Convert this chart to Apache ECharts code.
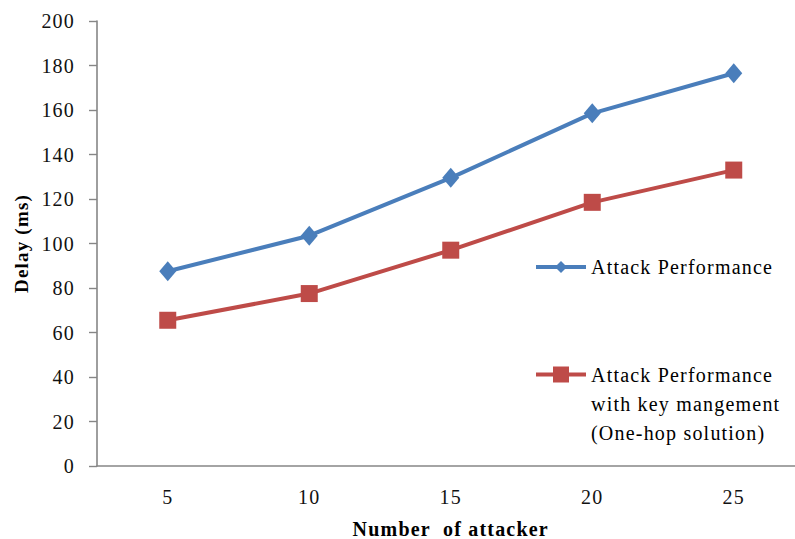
<!DOCTYPE html>
<html>
<head>
<meta charset="utf-8">
<script src="https://cdn.jsdelivr.net/npm/echarts@6/dist/echarts.min.js"></script>
<style>
  html, body { margin: 0; padding: 0; background: #fff; overflow: hidden; width: 795px; height: 539px; }
  #chart { position: absolute; left: 0; top: 0; width: 795px; height: 539px; overflow: hidden; }
  /* slightly looser glyph spacing for the serif labels */
  #chart svg text { letter-spacing: 1.2px; }
</style>
</head>
<body>
<div id="chart"></div>
<script>
// Number of attackers on the x axis
const categories = ['5', '10', '15', '20', '25'];

// Delay (ms) per scenario
const attackDelay = [87.5, 103.5, 129.5, 158.5, 176.5];
const keyMgmtDelay = [65.5, 77.5, 97, 118.5, 133];

const seriesNames = [
  'Attack Performance',
  'Attack Performance with key mangement (One-hop solution)'
];
// two empty leading lines keep the icon level with the first text line
const legendLabels = [
  'Attack Performance',
  '\n\nAttack Performance\nwith key mangement\n(One-hop solution)'
];

const yTicks = { min: 0, max: 200, interval: 20 };

const FONT = 'Liberation Serif';
const AXIS_GRAY = '#868686';
const BLUE = '#4a7ebb';
const RED = '#be4b48';

const chart = echarts.init(document.getElementById('chart'), null, { renderer: 'svg', width: 795, height: 539 });

chart.setOption({
  backgroundColor: '#ffffff',
  animation: false,
  // plot area runs slightly past the right edge of the canvas
  grid: { left: 97, top: 21, width: 707.5, height: 445, containLabel: false, outerBoundsMode: 'none' },
  xAxis: {
    type: 'category',
    data: categories,
    boundaryGap: true,
    name: 'Number  of attacker',
    nameLocation: 'middle',
    nameGap: 53,
    nameTextStyle: { fontFamily: FONT, fontSize: 20, fontWeight: 'bold', color: '#000' },
    axisLine: { lineStyle: { color: AXIS_GRAY, width: 1.6 } },
    axisTick: { show: false },
    axisLabel: { fontFamily: FONT, fontSize: 20, color: '#111', margin: 21 },
    splitLine: { show: false }
  },
  yAxis: {
    type: 'value',
    min: yTicks.min,
    max: yTicks.max,
    interval: yTicks.interval,
    name: 'Delay (ms)',
    nameLocation: 'middle',
    nameRotate: 90,
    nameGap: 66,
    nameTextStyle: { fontFamily: FONT, fontSize: 19, fontWeight: 'bold', color: '#000' },
    axisLine: { show: true, lineStyle: { color: AXIS_GRAY, width: 1.6 } },
    axisTick: { show: true, inside: false, length: 8, lineStyle: { color: AXIS_GRAY, width: 1.4 } },
    axisLabel: { fontFamily: FONT, fontSize: 20, color: '#111', margin: 22 },
    splitLine: { show: false }
  },
  legend: [
    {
      data: [seriesNames[0]],
      left: 534,
      top: 255,
      padding: 0,
      itemWidth: 50,
      itemHeight: 15,
      formatter: () => legendLabels[0],
      lineStyle: { width: 4 },
      textStyle: { fontFamily: FONT, fontSize: 20, color: '#000', lineHeight: 24 }
    },
    {
      data: [seriesNames[1]],
      left: 534,
      top: 302,
      padding: 0,
      itemWidth: 50,
      itemHeight: 20,
      formatter: () => legendLabels[1],
      lineStyle: { width: 4 },
      textStyle: { fontFamily: FONT, fontSize: 20, color: '#000', lineHeight: 29 }
    }
  ],
  series: [
    {
      name: seriesNames[0],
      type: 'line',
      data: attackDelay,
      symbol: 'diamond',
      symbolSize: [17, 20],
      itemStyle: { color: BLUE },
      lineStyle: { color: BLUE, width: 4 }
    },
    {
      name: seriesNames[1],
      type: 'line',
      data: keyMgmtDelay,
      symbol: 'rect',
      symbolSize: 17,
      itemStyle: { color: RED },
      lineStyle: { color: RED, width: 4 }
    }
  ]
});
</script>
</body>
</html>
